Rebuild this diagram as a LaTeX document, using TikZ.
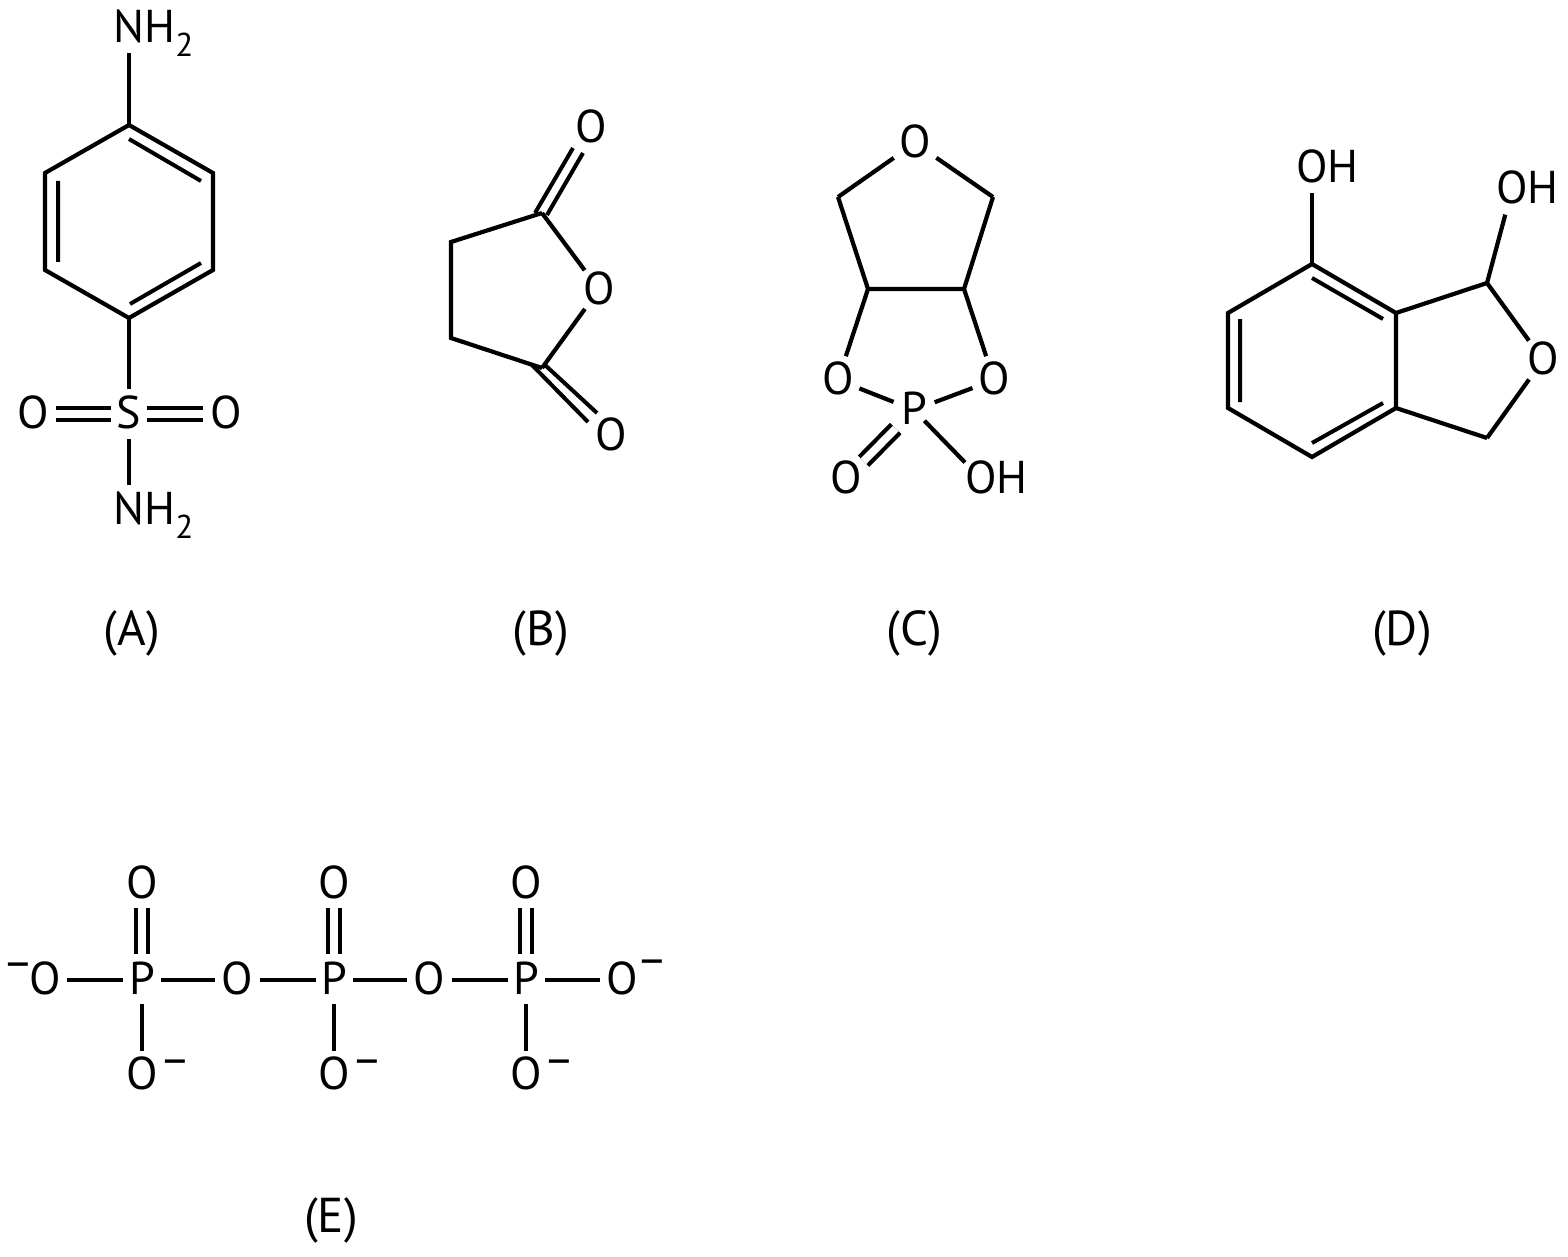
\documentclass[tikz,border=0pt]{standalone}
\usepackage{fontspec}
\setmainfont{PT Sans}
\newcommand{\mysubtwo}{\raisebox{-14pt}{\fontsize{33}{33}\selectfont 2}}
\newcommand{\minusR}[2]{\rlap{\hspace{#2}\raisebox{#1}{\fontsize{47}{47}\selectfont −}}}
\newcommand{\minusL}{\llap{\raisebox{14pt}{\fontsize{47}{47}\selectfont −}\hspace{-1pt}}}
\tikzset{
  atom/.style={inner sep=0pt,text height=29pt,text depth=0pt,font=\fontsize{46}{46}\selectfont},
  figlabel/.style={inner sep=0pt,anchor=base,font=\fontsize{49}{49}\selectfont},
  bond/.style={line width=4.2pt,line join=miter,line cap=butt,draw=black},
  thin bond/.style={line width=4pt,line cap=butt,draw=black},
  dbl/.style={line width=4.2pt,double,double distance=7.8pt,line cap=butt,draw=black}
}
\begin{document}
\begin{tikzpicture}[x=1pt,y=-1pt]
\useasboundingbox (0,0) rectangle (1568,1257);
% ---------- A
\coordinate (a1) at (129,125); \coordinate (a2) at (213,173); \coordinate (a3) at (213,270);
\coordinate (a4) at (129,318); \coordinate (a5) at (45,270);  \coordinate (a6) at (45,173);
\coordinate (ai1) at (129,139); \coordinate (ai2) at (201,181);
\coordinate (ai3) at (58,181);  \coordinate (ai4) at (58,262);
\coordinate (ai5) at (201,263); \coordinate (ai6) at (130,304);
\node[atom] (aN1) at (129,28.5) {N\rlap{H\mysubtwo}};
\node[atom] (aS) at (129,414) {S};
\node[atom] (aOl) at (33,414) {O};
\node[atom] (aOr) at (226,414) {O};
\node[atom] (aN2) at (129,509.5) {N\rlap{H\mysubtwo}};
\draw[bond] (a1)--(a2)--(a3)--(a4)--(a5)--(a6)--cycle;
\draw[thin bond] (ai1)--(ai2) (ai3)--(ai4) (ai5)--(ai6);
\draw[bond,shorten >=24.5pt] (a1)--(aN1.center);
\draw[bond,shorten >=25pt] (a4)--(aS.center);
\draw[bond,shorten <=25pt,shorten >=24.5pt] (aS.center)--(aN2.center);
\draw[dbl,shorten <=18pt,shorten >=23pt] (aS.center)--(aOl.center);
\draw[dbl,shorten <=18pt,shorten >=23pt] (aS.center)--(aOr.center);
\node[figlabel] (la) at (132,645) {(A)};
% ---------- B
\coordinate (b1) at (542,213); \coordinate (b2) at (451,242); \coordinate (b3) at (451,338); \coordinate (b4) at (542,368);
\coordinate (bt1) at (535,213); \coordinate (bt2) at (573,148); \coordinate (bt3) at (547,215); \coordinate (bt4) at (583,153);
\coordinate (bb1) at (532,365); \coordinate (bb2) at (588,422); \coordinate (bb3) at (545,365); \coordinate (bb4) at (597,413);
\node[atom] (bO) at (599,289.5) {O};
\node[atom] (bOt) at (591,128.5) {O};
\node[atom] (bOb) at (611,435.5) {O};
\draw[bond] (b1)--(b2)--(b3)--(b4);
\draw[bond,shorten >=24pt] (b1)--(bO.center);
\draw[bond,shorten >=24pt] (b4)--(bO.center);
\draw[thin bond] (bt1)--(bt2) (bt3)--(bt4) (bb1)--(bb2) (bb3)--(bb4);
\node[figlabel] (lb) at (541,645) {(B)};
% ---------- C
\coordinate (c1) at (838,197); \coordinate (c2) at (868,289); \coordinate (c3) at (964,289); \coordinate (c4) at (993,197);
\node[atom] (cO) at (915,143) {O};
\node[atom] (cOl) at (838,380) {O};
\node[atom] (cOr) at (994,380) {O};
\node[atom] (cP) at (914,410) {P};
\node[atom] (cOb) at (846,479) {O};
\node[atom] (cOH) at (981,479) {O\rlap{H}};
\draw[bond] (c1)--(c2)--(c3)--(c4);
\draw[bond,shorten >=26pt] (c1)--(cO.center);
\draw[bond,shorten >=26pt] (c4)--(cO.center);
\draw[bond,shorten >=25pt] (c2)--(cOl.center);
\draw[bond,shorten >=25pt] (c3)--(cOr.center);
\draw[bond,shorten <=23pt,shorten >=22pt] (cOl.center)--(cP.center);
\draw[bond,shorten <=23pt,shorten >=22pt] (cOr.center)--(cP.center);
\draw[bond,shorten <=15pt,shorten >=23pt] (cP.center)--(cOH.center);
\draw[dbl,shorten <=26pt,shorten >=25pt] (cP.center)--(cOb.center);
\node[figlabel] (lc) at (914,645) {(C)};
% ---------- D
\coordinate (d1) at (1312,264); \coordinate (d2) at (1396,313); \coordinate (d3) at (1396,408);
\coordinate (d4) at (1312,457); \coordinate (d5) at (1228,408); \coordinate (d6) at (1228,313);
\coordinate (d7) at (1487,283); \coordinate (d8) at (1487,438);
\coordinate (di1) at (1312,278); \coordinate (di2) at (1383,319);
\coordinate (di3) at (1240,319); \coordinate (di4) at (1240,402);
\coordinate (di5) at (1383,403); \coordinate (di6) at (1312,443);
\node[atom] (dOH1) at (1312,168.5) {O\rlap{H}};
\node[atom] (dOH2) at (1512,189.5) {O\rlap{H}};
\node[atom] (dO) at (1543,360) {O};
\draw[bond] (d1)--(d2)--(d3)--(d4)--(d5)--(d6)--cycle;
\draw[thin bond] (di1)--(di2) (di3)--(di4) (di5)--(di6);
\draw[bond] (d2)--(d7);
\draw[bond] (d3)--(d8);
\draw[bond,shorten >=24.5pt] (d1)--(dOH1.center);
\draw[bond,shorten >=26pt] (d7)--(dOH2.center);
\draw[bond,shorten >=24pt] (d7)--(dO.center);
\draw[bond,shorten >=24pt] (d8)--(dO.center);
\node[figlabel] (ld) at (1402,645) {(D)};
% ---------- E
\node[atom] (eO1) at (45,980) {\minusL O};
\node[atom] (eP1) at (142,980) {P};
\node[atom] (eO2) at (237,980) {O};
\node[atom] (eP2) at (334,980) {P};
\node[atom] (eO3) at (429,980) {O};
\node[atom] (eP3) at (526,980) {P};
\node[atom] (eO4) at (622,980) {O\minusR{17pt}{3pt}};
\node[atom] (eT1) at (142,883.5) {O};
\node[atom] (eT2) at (334,883.5) {O};
\node[atom] (eT3) at (526,883.5) {O};
\node[atom] (eB1) at (142,1074.5) {O\minusR{11.5pt}{5.5pt}};
\node[atom] (eB2) at (334,1074.5) {O\minusR{11.5pt}{5.5pt}};
\node[atom] (eB3) at (526,1074.5) {O\minusR{11.5pt}{5.5pt}};
\draw[bond,shorten <=22pt,shorten >=19pt] (eO1.center)--(eP1.center);
\draw[bond,shorten <=19pt,shorten >=22pt] (eP1.center)--(eO2.center);
\draw[bond,shorten <=23pt,shorten >=18pt] (eO2.center)--(eP2.center);
\draw[bond,shorten <=19pt,shorten >=22pt] (eP2.center)--(eO3.center);
\draw[bond,shorten <=23pt,shorten >=18pt] (eO3.center)--(eP3.center);
\draw[bond,shorten <=19pt,shorten >=22pt] (eP3.center)--(eO4.center);
\foreach \p/\t/\b in {eP1/eT1/eB1,eP2/eT2/eB2,eP3/eT3/eB3}{
  \draw[dbl,shorten <=26pt,shorten >=24.5pt] (\p.center)--(\t.center);
  \draw[bond,shorten <=24pt,shorten >=23.5pt] (\p.center)--(\b.center);
}
\node[figlabel] (le) at (331,1232) {(E)};
\end{tikzpicture}
\end{document}
